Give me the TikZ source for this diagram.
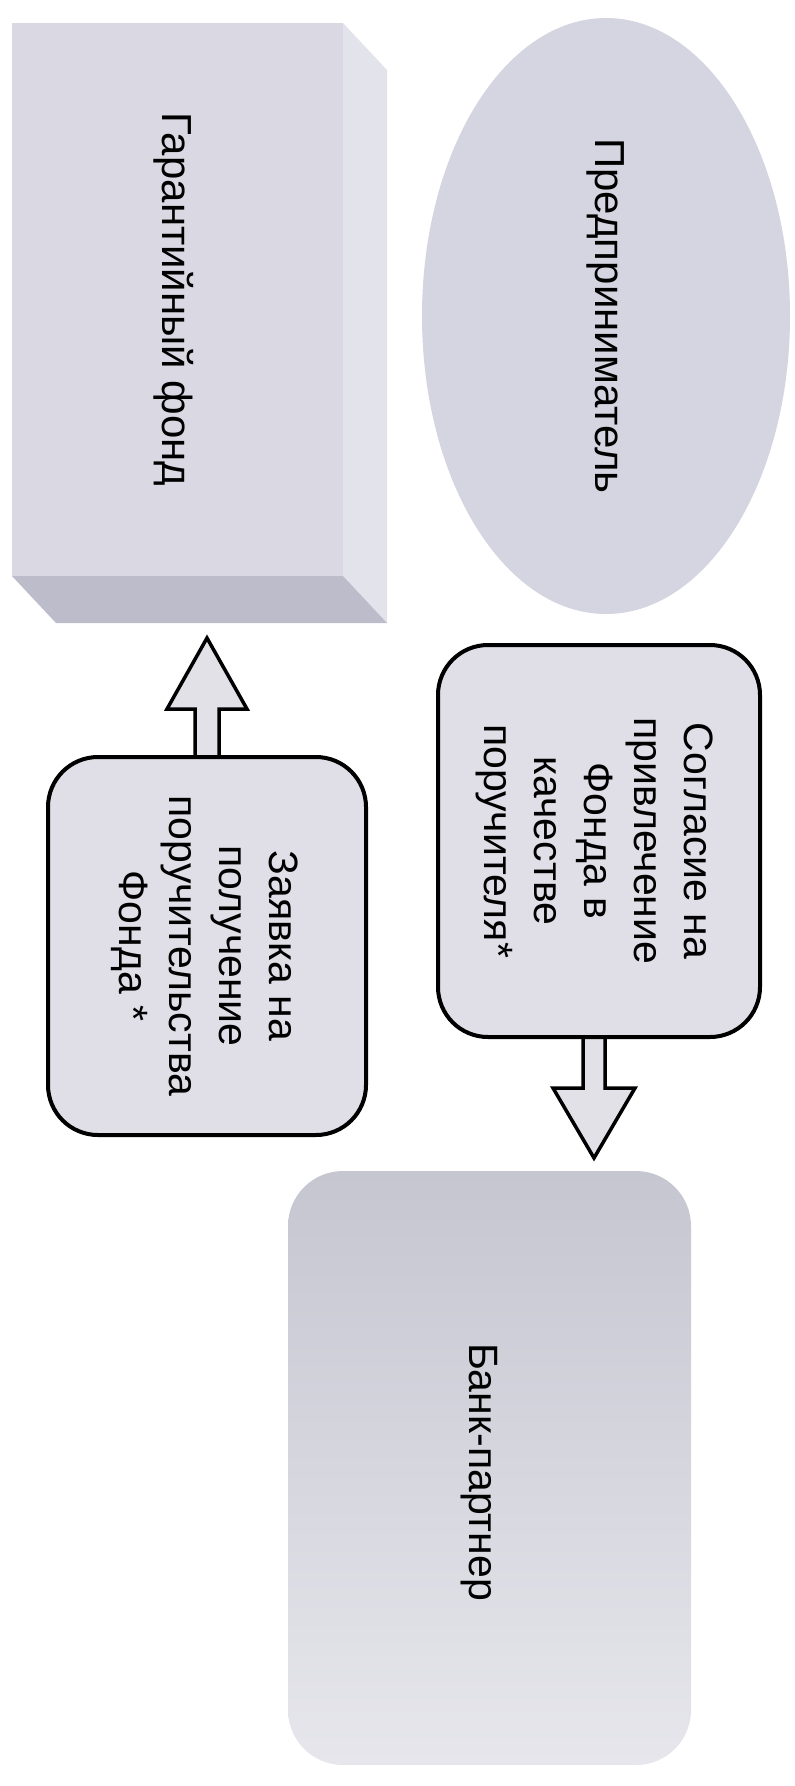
\documentclass[tikz,border=0pt]{standalone}
\usepackage{fontspec}
\setmainfont{Liberation Sans}
\usetikzlibrary{shapes.geometric,calc,backgrounds}
\definecolor{cubefront}{RGB}{217,216,227}
\definecolor{cubeside}{RGB}{227,227,235}
\definecolor{cubebottom}{RGB}{188,188,202}
\definecolor{ellfill}{RGB}{213,212,225}
\definecolor{boxfill}{RGB}{224,222,230}
\definecolor{arrowfill}{RGB}{226,225,232}
\definecolor{banktop}{RGB}{198,198,209}
\definecolor{bankbottom}{RGB}{230,230,236}
\begin{document}
\begin{tikzpicture}[x=1pt,y=-1pt,
  frontface/.style={draw=none, fill=cubefront, inner sep=0pt, outer sep=0pt, minimum width=331pt, minimum height=553pt},
  rbox/.style={draw=black, line width=4pt, fill=boxfill, rounded corners=50pt, inner sep=0pt, outer sep=0pt},
  bankbox/.style={draw=none, top color=banktop, bottom color=bankbottom, rounded corners=55pt, inner sep=0pt, outer sep=0pt, minimum width=403pt, minimum height=594pt},
  lbl/.style={rotate=-90, align=center, font=\fontsize{41}{50}\selectfont, inner sep=0pt},
  biglbl/.style={rotate=-90, align=center, font=\fontsize{42}{50}\selectfont, inner sep=0pt},
  blockarrow/.style={draw=black, line width=3.5pt, fill=arrowfill, line join=miter}
]
\useasboundingbox (0,0) rectangle (795,1786);

% Guarantee fund: cube
\node[frontface] (garant) at (177.5,299.5) {};
\fill[cubeside] (garant.north east) -- ++(44,47) -- ($(garant.south east)+(44,47)$) -- (garant.south east) -- cycle;
\fill[cubebottom] (garant.south west) -- (garant.south east) -- ($(garant.south east)+(44,47)$) -- ($(garant.south west)+(44,47)$) -- cycle;
\node[biglbl] at ($(garant.center)+(-4,0)$) {Гарантийный фонд};

% Entrepreneur
\node[ellipse, draw=none, fill=ellfill, minimum width=368pt, minimum height=596pt, inner sep=0pt] (pred) at (606,316) {};
\node[biglbl] at (pred.center) {Предприниматель};

% Application box
\node[rbox, minimum width=318pt, minimum height=378pt] (zay) at (207,946) {};
\node[lbl] at ($(zay.center)+(-2,0)$) {Заявка на\\получение\\поручительства\\Фонда *};

% Consent box
\node[rbox, minimum width=322pt, minimum height=392pt] (sogl) at (599,841) {};
\node[lbl] at ($(sogl.center)+(-4,0)$) {Согласие на\\привлечение\\Фонда в\\качестве\\поручителя*};

% Partner bank
\node[bankbox] (bank) at (489.5,1468) {};
\node[lbl] at ($(bank.center)+(-10,4)$) {Банк-партнер};

% Block arrows
\begin{scope}[on background layer]
\draw[blockarrow] ($(zay.north)+(-12,0)$) -- ++(0,-48) -- ++(-28,0) -- ($(zay.north)+(0,-119)$) -- ($(zay.north)+(40,-48)$) -- ++(-28,0) -- ($(zay.north)+(12,0)$);
\draw[blockarrow] ($(sogl.south)+(-16,0)$) -- ++(0,51) -- ++(-30,0) -- ($(sogl.south)+(-5,121)$) -- ($(sogl.south)+(36,51)$) -- ++(-30,0) -- ($(sogl.south)+(6,0)$);
\end{scope}
\end{tikzpicture}
\end{document}
